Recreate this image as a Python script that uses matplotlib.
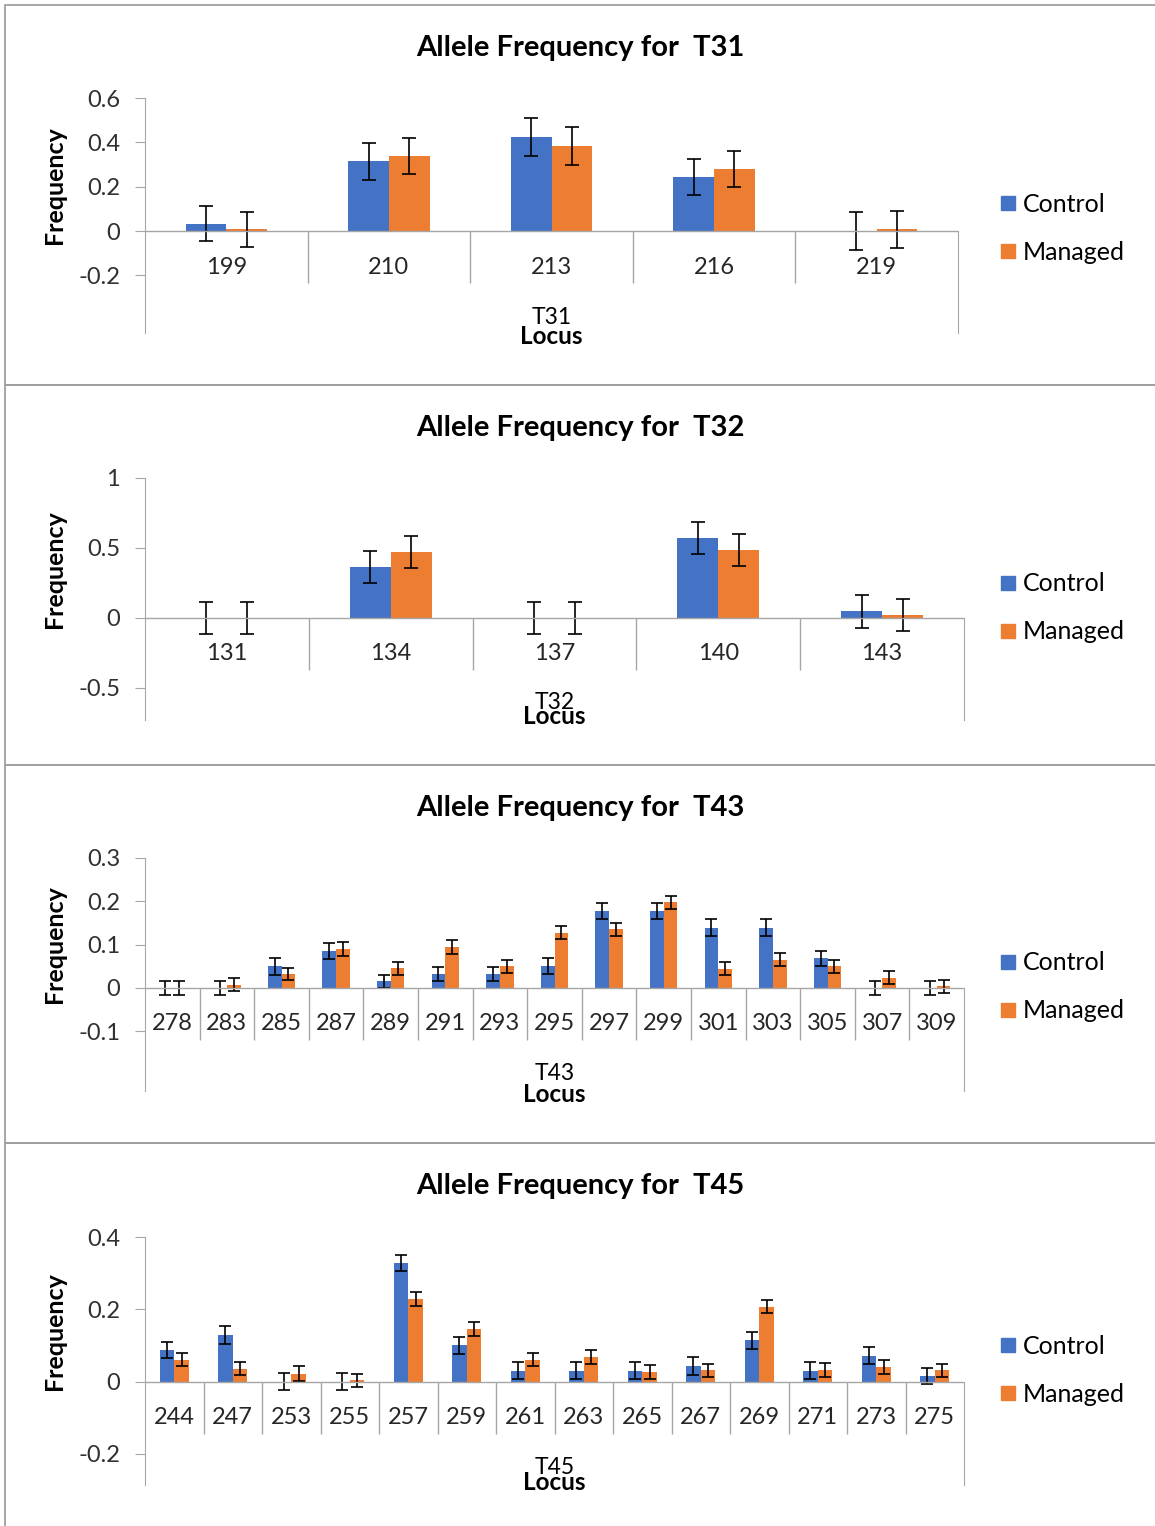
import numpy as np
import matplotlib
matplotlib.use('Agg')
import matplotlib.pyplot as plt
from matplotlib.patches import Rectangle
from matplotlib.lines import Line2D
from matplotlib.transforms import offset_copy

plt.rcParams['font.family'] = ['Lato', 'DejaVu Sans']

W, H = 1155, 1526
BLUE = '#4472C4'
ORANGE = '#ED7D31'
GRAY = '#A6A6A6'

# ---- data ----
t31_alleles = ['199', '210', '213', '216', '219']
t31_control = [0.033, 0.314, 0.424, 0.245, 0.0]
t31_managed = [0.008, 0.337, 0.382, 0.280, 0.008]
t31_control_err = [0.080, 0.084, 0.084, 0.082, 0.084]
t31_managed_err = [0.080, 0.082, 0.085, 0.082, 0.084]

t32_alleles = ['131', '134', '137', '140', '143']
t32_control = [0.0, 0.367, 0.0, 0.569, 0.048]
t32_managed = [0.0, 0.469, 0.0, 0.486, 0.021]
t32_control_err = [0.112, 0.114, 0.112, 0.115, 0.117]
t32_managed_err = [0.115, 0.115, 0.115, 0.116, 0.115]

t43_alleles = ['278', '283', '285', '287', '289', '291', '293', '295',
               '297', '299', '301', '303', '305', '307', '309']
t43_control = [0.0, 0.0, 0.050, 0.085, 0.015, 0.032, 0.032, 0.050,
               0.177, 0.177, 0.139, 0.139, 0.068, 0.0, 0.0]
t43_managed = [0.0, 0.007, 0.032, 0.089, 0.045, 0.094, 0.050, 0.127,
               0.135, 0.198, 0.044, 0.065, 0.050, 0.023, 0.004]
t43_control_err = [0.016, 0.016, 0.020, 0.019, 0.016, 0.017, 0.017, 0.018,
                   0.018, 0.018, 0.019, 0.019, 0.018, 0.016, 0.016]
t43_managed_err = [0.016, 0.015, 0.014, 0.016, 0.015, 0.016, 0.015, 0.015,
                   0.015, 0.015, 0.015, 0.015, 0.015, 0.015, 0.015]

t45_alleles = ['244', '247', '253', '255', '257', '259', '261', '263',
               '265', '267', '269', '271', '273', '275']
t45_control = [0.087, 0.129, 0.0, 0.0, 0.328, 0.100, 0.030, 0.030,
               0.030, 0.043, 0.114, 0.030, 0.072, 0.015]
t45_managed = [0.061, 0.036, 0.022, 0.004, 0.228, 0.146, 0.061, 0.068,
               0.026, 0.032, 0.207, 0.032, 0.040, 0.032]
t45_control_err = [0.023, 0.024, 0.023, 0.023, 0.022, 0.024, 0.024, 0.024,
                   0.024, 0.024, 0.023, 0.024, 0.023, 0.023]
t45_managed_err = [0.019, 0.019, 0.020, 0.018, 0.019, 0.020, 0.019, 0.019,
                   0.019, 0.018, 0.018, 0.019, 0.019, 0.018]

# layout of each panel in pixels: box top/bottom, axes right, axes top/bottom, y range
panels = [
    dict(locus='T31', alleles=t31_alleles, c=t31_control, m=t31_managed,
         ce=t31_control_err, me=t31_managed_err,
         box=(5, 385), right=958, top=98, bottom=333, ylim=(-0.46, 0.6),
         yticks=[-0.2, 0, 0.2, 0.4, 0.6], ylabels=['-0.2', '0', '0.2', '0.4', '0.6'],
         title_y=48, loc_y=(318, 337), leg_y=228, cap=5),
    dict(locus='T32', alleles=t32_alleles, c=t32_control, m=t32_managed,
         ce=t32_control_err, me=t32_managed_err,
         box=(385, 765), right=964, top=478, bottom=720, ylim=(-0.729, 1.0),
         yticks=[-0.5, 0, 0.5, 1], ylabels=['-0.5', '0', '0.5', '1'],
         title_y=428, loc_y=(703, 716), leg_y=608, cap=5),
    dict(locus='T43', alleles=t43_alleles, c=t43_control, m=t43_managed,
         ce=t43_control_err, me=t43_managed_err,
         box=(765, 1143), right=964, top=858, bottom=1091, ylim=(-0.238, 0.3),
         yticks=[-0.1, 0, 0.1, 0.2, 0.3], ylabels=['-0.1', '0', '0.1', '0.2', '0.3'],
         title_y=808, loc_y=(1074, 1095), leg_y=987, cap=4.5),
    dict(locus='T45', alleles=t45_alleles, c=t45_control, m=t45_managed,
         ce=t45_control_err, me=t45_managed_err,
         box=(1143, 1530), right=964, top=1237, bottom=1485, ylim=(-0.286, 0.4),
         yticks=[-0.2, 0, 0.2, 0.4], ylabels=['-0.2', '0', '0.2', '0.4'],
         title_y=1186, loc_y=(1468, 1482), leg_y=1370, cap=4.5),
]

fig = plt.figure(figsize=(W / 100, H / 100), dpi=100)
LEFT = 145
width = 0.25

for p in panels:
    # panel border
    y0, y1 = p['box']
    fig.add_artist(Rectangle((5 / W, 1 - y1 / H), 1.2, (y1 - y0) / H,
                             transform=fig.transFigure, fill=False,
                             edgecolor='#A0A0A0', linewidth=1.3))

    ax = fig.add_axes([LEFT / W, 1 - p['bottom'] / H,
                       (p['right'] - LEFT) / W, (p['bottom'] - p['top']) / H])
    n = len(p['alleles'])
    x = np.arange(n)
    ax.bar(x - width / 2, p['c'], width, color=BLUE, label='Control')
    ax.bar(x + width / 2, p['m'], width, color=ORANGE, label='Managed')
    ax.errorbar(x - width / 2, p['c'], yerr=p['ce'], fmt='none', ecolor='black',
                elinewidth=1.2, capsize=p['cap'], capthick=1.2)
    ax.errorbar(x + width / 2, p['m'], yerr=p['me'], fmt='none', ecolor='black',
                elinewidth=1.2, capsize=p['cap'], capthick=1.2)

    ax.set_xlim(-0.5, n - 0.5)
    ax.set_ylim(*p['ylim'])
    ax.axhline(0, color=GRAY, linewidth=1)

    # category separators below the zero line
    px_per_unit = (p['bottom'] - p['top']) / (p['ylim'][1] - p['ylim'][0])
    depth = 52 / px_per_unit
    ax.vlines(x[:-1] + 0.5, -depth, 0, color=GRAY, linewidth=1)

    lab_tr = offset_copy(ax.transData, fig=fig, y=-36, units='dots')
    for i, a in enumerate(p['alleles']):
        ax.text(i, 0, a, transform=lab_tr, ha='center', va='center', fontsize=17,
                color='#262626')

    for s in ['top', 'bottom']:
        ax.spines[s].set_visible(False)
    ax.spines['left'].set_color(GRAY)
    ax.spines['right'].set_color(GRAY)
    ax.spines['right'].set_bounds(p['ylim'][0], 0)
    ax.set_xticks([])
    ax.set_yticks(p['yticks'])
    ax.set_yticklabels(p['ylabels'], fontsize=17, color='#303030')
    ax.tick_params(axis='y', length=7, color=GRAY, pad=11)
    ax.set_facecolor('none')

    cx = (LEFT + p['right']) / 2
    fig.text(580 / W, 1 - p['title_y'] / H, 'Allele Frequency for  ' + p['locus'],
             ha='center', va='center', fontsize=21, fontweight='bold')
    fig.text(cx / W, 1 - p['loc_y'][0] / H, p['locus'], ha='center', va='center',
             fontsize=16.5)
    fig.text(cx / W, 1 - p['loc_y'][1] / H, 'Locus', ha='center', va='center',
             fontsize=17.5, fontweight='bold')
    fig.text(55 / W, 1 - ((p['top'] + p['bottom']) / 2 - 30) / H, 'Frequency',
             rotation=90, ha='center', va='center', fontsize=18, fontweight='bold')

    handles = [Line2D([], [], marker='s', linestyle='none', color=BLUE, markersize=9.5),
               Line2D([], [], marker='s', linestyle='none', color=ORANGE, markersize=9.5)]
    fig.legend(handles, ['Control', 'Managed'], loc='center left',
               bbox_to_anchor=(995 / W, 1 - p['leg_y'] / H), frameon=False,
               fontsize=18, handlelength=1.0, handletextpad=0.1,
               labelspacing=1.0, borderpad=0, borderaxespad=0)

fig.savefig('out.png', dpi=100)
